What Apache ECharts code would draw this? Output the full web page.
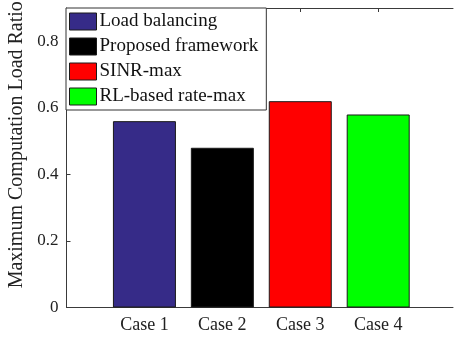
<!DOCTYPE html>
<html><head><meta charset="utf-8">
<script src="https://cdn.jsdelivr.net/npm/echarts@6/dist/echarts.min.js"></script>
<style>html,body{margin:0;padding:0;background:#fff}#c{width:454px;height:339px}</style>
</head><body><div id="c"></div>
<script>
const categories = ['Case 1', 'Case 2', 'Case 3', 'Case 4'];
const seriesNames = ['Load balancing', 'Proposed framework', 'SINR-max', 'RL-based rate-max'];
const values = [0.56, 0.48, 0.62, 0.58];
const colors = ['#362b88', '#000000', '#ff0000', '#00ff00'];
const yTicks = [0, 0.2, 0.4, 0.6, 0.8];
const xPos = [1, 2, 3, 4];
const yMax = 0.9;

const font = 'Liberation Serif';
const axisColor = '#3a3a3a';
const chart = echarts.init(document.getElementById('c'));
const series = seriesNames.map((name, i) => ({
  name, type: 'bar', barWidth: 63, barGap: '-100%', clip: false,
  data: [[xPos[i], values[i]]],
  itemStyle: { color: colors[i], borderColor: '#1a1a1a', borderWidth: 1 },
  emphasis: { disabled: true }, animation: false,
  markLine: i === 0 ? {
    silent: true, symbol: 'none', label: { show: false }, animation: false,
    lineStyle: { color: axisColor, type: 'solid', width: 1 },
    data: [{ yAxis: yMax }]
  } : undefined
}));
chart.setOption({
  animation: false,
  grid: { left: 66.5, right: 1, top: 8, bottom: 31.5, containLabel: false, outerBoundsMode: 'none' },
  legend: {
    orient: 'vertical', left: 66, top: 8, padding: [4, 8, 4, 3],
    itemWidth: 27, itemHeight: 17, itemGap: 6, z: 10,
    backgroundColor: '#fff', borderColor: '#333', borderWidth: 1, borderRadius: 0,
    textStyle: { fontFamily: font, fontSize: 19, lineHeight: 17, color: '#111', padding: [0, 0, 0, -2] },
    itemStyle: { borderColor: '#1a1a1a', borderWidth: 1 },
    data: seriesNames.map((n, i) => ({ name: n, icon: 'rect' }))
  },
  xAxis: [{
    type: 'value', min: 0, max: 4.96, interval: 1,
    axisLine: { show: true, onZero: false, lineStyle: { color: axisColor, width: 1 } },
    axisTick: { show: true, inside: true, length: 4, lineStyle: { color: axisColor },
      customValues: xPos },
    axisLabel: { fontFamily: font, fontSize: 18, color: '#222', margin: 9,
      customValues: xPos, formatter: v => categories[v - 1] || '' },
    splitLine: { show: false }
  }, {
    type: 'value', min: 0, max: 4.96, interval: 1, position: 'top', show: true,
    axisLine: { show: true, onZero: false, lineStyle: { color: axisColor, width: 1 } },
    axisTick: { show: true, inside: true, length: 4, lineStyle: { color: axisColor },
      customValues: xPos },
    axisLabel: { show: false }, splitLine: { show: false }
  }],
  yAxis: [{
    type: 'value', min: 0, max: yMax, interval: 0.2,
    name: 'Maximum Computation Load Ratio', nameLocation: 'middle', nameGap: 40,
    nameTextStyle: { fontFamily: font, fontSize: 20, color: '#222', padding: [0, 0, 0, 26] },
    axisLine: { show: true, lineStyle: { color: axisColor, width: 1 } },
    axisTick: { show: true, inside: true, length: 4, lineStyle: { color: axisColor },
      customValues: yTicks },
    axisLabel: { fontFamily: font, fontSize: 17, color: '#222', margin: 8,
      customValues: yTicks, formatter: v => String(v) },
    splitLine: { show: false }
  }, {
    type: 'value', min: 0, max: yMax, interval: yMax, position: 'right',
    axisLine: { show: false }, axisTick: { show: false }, axisLabel: { show: false },
    splitLine: { show: true, lineStyle: { color: axisColor, width: 1, type: 'solid' } }
  }],
  series
});
</script></body></html>
